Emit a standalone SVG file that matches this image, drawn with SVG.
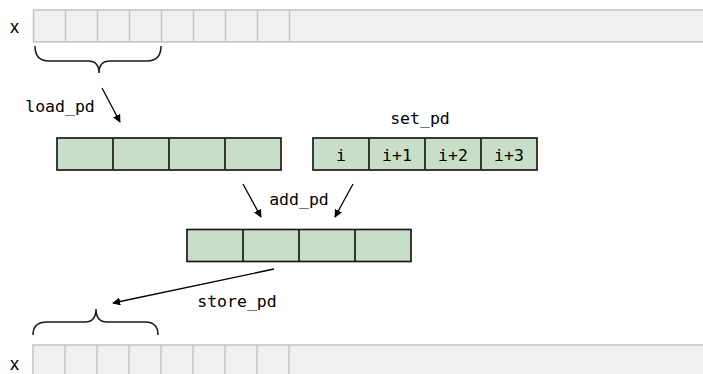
<svg xmlns="http://www.w3.org/2000/svg" width="703" height="374" viewBox="0 0 703 374">
<style>
.mem{fill:#f0f0f0;stroke:#c3c3c3;stroke-width:1.5}
.memline{stroke:#c3c3c3;stroke-width:1.5}
.reg{fill:#c8dec8;stroke:#1a1a1a;stroke-width:1.7}
.regline{stroke:#1a1a1a;stroke-width:1.7}
.mono{font-family:"DejaVu Sans Mono","Liberation Mono",monospace;font-size:16.5px;fill:#000;text-anchor:middle}
.lbl{font-family:"Liberation Sans",Arial,sans-serif;font-size:18px;fill:#000}
.brace{fill:none;stroke:#1a1a1a;stroke-width:1.5}
.arr{stroke:#000;stroke-width:1.3;fill:none;marker-end:url(#ah)}
</style>
<defs>
<marker id="ah" viewBox="0 0 10 10" refX="9" refY="5" markerWidth="8" markerHeight="8" markerUnits="userSpaceOnUse" orient="auto">
<path d="M0,0 L10,5 L0,10 z" fill="#000"/>
</marker>
</defs>
<rect width="703" height="374" fill="#fff"/>

<g id="x-top">
<text class="lbl" x="10" y="33">x</text>
<rect class="mem" x="33.5" y="10" width="690" height="32"/>
<path class="memline" d="M65.5,10V42M97.5,10V42M129.5,10V42M161.5,10V42M193.5,10V42M225.5,10V42M257.5,10V42M289.5,10V42"/>
</g>
<g id="brace-top">
<path class="brace" d="M35,46 Q35,61 49,61 L88,61 Q99,61 99,73 Q99,61 110,61 L147,61 Q161,61 161,46"/>
</g>

<g id="load-reg">
<rect class="reg" x="57" y="138" width="224" height="32"/>
<path class="regline" d="M113,138V170M169,138V170M225,138V170"/>
</g>

<g id="set-reg">
<text class="mono" x="420" y="124">set_pd</text>
<rect class="reg" x="313" y="138" width="224" height="32"/>
<path class="regline" d="M369,138V170M425,138V170M481,138V170"/>
<text class="mono" x="341" y="161">i</text>
<text class="mono" x="397" y="161">i+1</text>
<text class="mono" x="453" y="161">i+2</text>
<text class="mono" x="509" y="161">i+3</text>
</g>

<g id="add-reg">
<rect class="reg" x="187" y="229.5" width="224" height="32"/>
<path class="regline" d="M243,229.5V261.5M299,229.5V261.5M355,229.5V261.5"/>
</g>

<g id="x-bottom">
<text class="lbl" x="10" y="370">x</text>
<rect class="mem" x="33" y="345" width="690" height="40"/>
<path class="memline" d="M65,345V374M97,345V374M129,345V374M161,345V374M193,345V374M225,345V374M257,345V374M289,345V374"/>
</g>
<g id="brace-bottom">
<path class="brace" d="M33,335 Q33,322 47,322 L85,322 Q96,322 96,309 Q96,322 107,322 L145,322 Q158,322 158,335"/>
</g>

<g id="connectors">
<line class="arr" x1="102" y1="88" x2="120" y2="122"/>
<line class="arr" x1="243" y1="184" x2="261" y2="217"/>
<line class="arr" x1="353" y1="184" x2="335" y2="217"/>
<line class="arr" x1="274" y1="269" x2="113" y2="303"/>
<text class="mono" x="60" y="112">load_pd</text>
<text class="mono" x="299" y="205">add_pd</text>
<text class="mono" x="237" y="307">store_pd</text>
</g>
</svg>
